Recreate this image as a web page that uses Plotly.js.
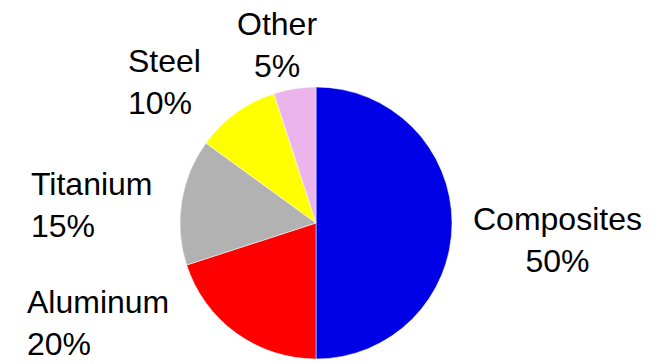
<!DOCTYPE html>
<html>
<head>
<meta charset="utf-8">
<script src="https://cdn.plot.ly/plotly-3.0.1.min.js"></script>
<style>html,body{margin:0;padding:0;background:#fff;}#chart{width:661px;height:364px;}</style>
</head>
<body>
<div id="chart"></div>
<script>
const categories = ['Composites', 'Aluminum', 'Titanium', 'Steel', 'Other'];
const shares = [50, 20, 15, 10, 5];
const sliceColors = ['#0000e6', '#ff0000', '#b2b2b2', '#ffff00', '#ebb4eb'];

// label placement (pixels in the 661x364 frame), styling only
const labelPos = {
  'Composites': {x: 557, y: 240, align: 'center', xanchor: 'center'},
  'Aluminum':   {x: 26,  y: 323, align: 'left',   xanchor: 'left'},
  'Titanium':   {x: 30,  y: 205, align: 'left',   xanchor: 'left'},
  'Steel':      {x: 127, y: 82,  align: 'left',   xanchor: 'left'},
  'Other':      {x: 277, y: 45,  align: 'center', xanchor: 'center'}
};

const W = 661, H = 364;
const cx = 316, cy = 223, r = 136;

const annotations = categories.map((c, i) => {
  const p = labelPos[c];
  return {
    text: c + '<br>' + shares[i] + '%',
    xref: 'paper', yref: 'paper',
    x: p.x / W, y: 1 - p.y / H,
    xanchor: p.xanchor, yanchor: 'middle',
    align: p.align,
    showarrow: false,
    borderpad: 0,
    font: {family: 'Liberation Sans, Arial, sans-serif', size: 32, color: '#000'}
  };
});

const data = [{
  type: 'pie',
  labels: categories,
  values: shares,
  sort: false,
  direction: 'clockwise',
  rotation: 0,
  textinfo: 'none',
  hoverinfo: 'none',
  marker: {colors: sliceColors, line: {color: '#ffffff', width: 0.5}},
  domain: {x: [(cx - r) / W, (cx + r) / W], y: [1 - (cy + r) / H, 1 - (cy - r) / H]}
}];

const layout = {
  width: W, height: H,
  margin: {l: 0, r: 0, t: 0, b: 0},
  paper_bgcolor: '#ffffff',
  showlegend: false,
  annotations: annotations
};

Plotly.newPlot('chart', data, layout, {staticPlot: true, displayModeBar: false});
</script>
</body>
</html>
